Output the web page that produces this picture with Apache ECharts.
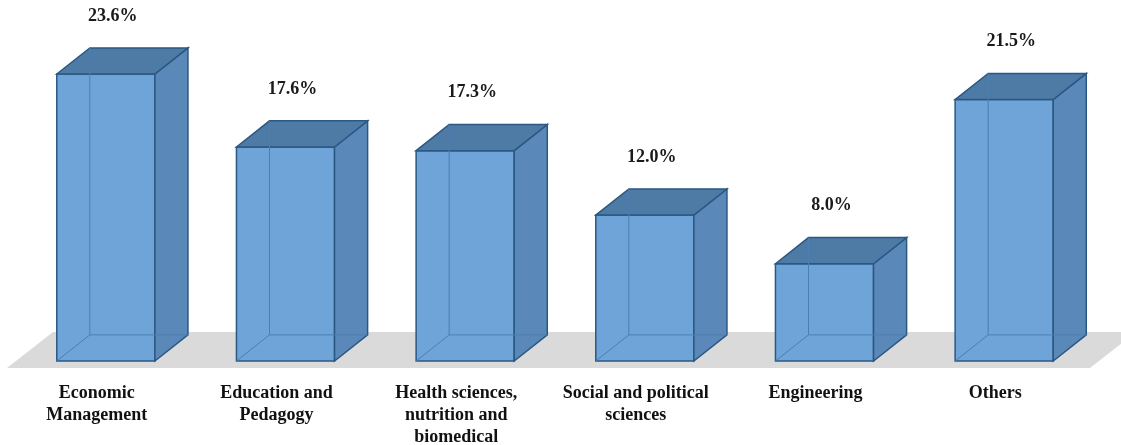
<!DOCTYPE html>
<html>
<head>
<meta charset="utf-8">
<script src="https://cdn.jsdelivr.net/npm/echarts@6/dist/echarts.min.js"></script>
<style>
  html, body { margin: 0; padding: 0; background: #ffffff; }
  #chart { width: 1121px; height: 445px; }
</style>
</head>
<body>
<div id="chart"></div>
<script>
const categories = [
  'Economic\nManagement',
  'Education and\nPedagogy',
  'Health sciences,\nnutrition and\nbiomedical',
  'Social and political\nsciences',
  'Engineering',
  'Others'
];
const values = [23.6, 17.6, 17.3, 12.0, 8.0, 21.5];
const valueLabels = ['23.6%', '17.6%', '17.3%', '12.0%', '8.0%', '21.5%'];

const FONT = '"Liberation Serif", "Times New Roman", serif';
const FRONT = '#6fa4d8';
const TOPC = '#4e7aa6';
const SIDE = '#5a89b9';
const EDGE = '#2b5883';
const HIDDEN = '#4a7fb4';

function renderBar(params, api) {
  const idx = api.value(0), v = api.value(1);
  const top = api.coord([idx, v]);
  const base = api.coord([idx, 0]);
  const band = api.size([1, 0])[0];
  const w = band * 0.546;
  const dx = band * 0.184;
  const dy = dx * 0.79;
  const x0 = top[0] - w / 2, x1 = top[0] + w / 2, yT = top[1], yB = base[1];
  const hid = { stroke: HIDDEN, lineWidth: 1 };
  return {
    type: 'group',
    children: [
      { type: 'polygon', shape: { points: [[x0, yT], [x1, yT], [x1, yB], [x0, yB]] },
        style: { fill: FRONT, stroke: EDGE, lineWidth: 1.5 } },
      { type: 'polygon', shape: { points: [[x1, yT], [x1 + dx, yT - dy], [x1 + dx, yB - dy], [x1, yB]] },
        style: { fill: SIDE, stroke: EDGE, lineWidth: 1.5 } },
      { type: 'polygon', shape: { points: [[x0, yT], [x0 + dx, yT - dy], [x1 + dx, yT - dy], [x1, yT]] },
        style: { fill: TOPC, stroke: EDGE, lineWidth: 1.5 } },
      { type: 'line', shape: { x1: x0, y1: yB, x2: x0 + dx, y2: yB - dy }, style: hid },
      { type: 'line', shape: { x1: x0 + dx, y1: yB - dy, x2: x1 + dx, y2: yB - dy }, style: hid },
      { type: 'line', shape: { x1: x0 + dx, y1: yB - dy, x2: x0 + dx, y2: yT - dy }, style: hid },
      { type: 'text', style: {
          text: valueLabels[params.dataIndex], x: top[0] + 7, y: yT - 58,
          align: 'center', verticalAlign: 'middle',
          font: 'bold 18px ' + FONT, fill: '#1a1a1a' } }
    ]
  };
}

function renderFloor(params, api) {
  const cs = params.coordSys;
  const base = cs.y + cs.height;
  const left = cs.x - 9;
  const right = cs.x + cs.width - 4;
  return {
    type: 'polygon',
    shape: { points: [[left, base + 7], [left + 46, base - 29], [right + 46, base - 29], [right, base + 7]] },
    style: { fill: '#dadada' }
  };
}

const chart = echarts.init(document.getElementById('chart'), null, { renderer: 'canvas' });
chart.setOption({
  animation: false,
  backgroundColor: '#ffffff',
  grid: { left: 16, right: 27, top: 57, bottom: 84, containLabel: false, outerBoundsMode: 'none' },
  xAxis: {
    type: 'category',
    data: categories,
    axisLine: { show: false },
    axisTick: { show: false },
    axisLabel: {
      interval: 0,
      margin: 21,
      color: '#111111',
      fontFamily: FONT,
      fontWeight: 'bold',
      fontSize: 18,
      lineHeight: 22,
      padding: [0, 18, 0, 0]
    }
  },
  yAxis: { type: 'value', min: 0, max: 25, show: false, splitLine: { show: false } },
  series: [
    { type: 'custom', z: 1, silent: true, renderItem: renderFloor, data: [[0]] },
    { type: 'custom', z: 2, renderItem: renderBar, data: values.map((v, i) => [i, v]) }
  ]
});
</script>
</body>
</html>
